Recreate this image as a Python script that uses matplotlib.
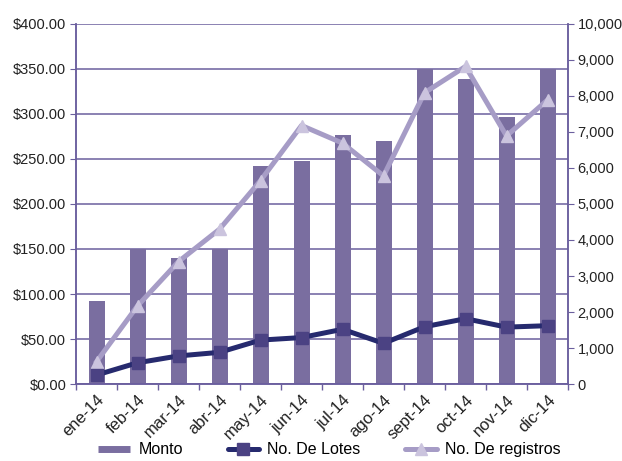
import matplotlib.pyplot as plt
from matplotlib.lines import Line2D
from matplotlib.ticker import FuncFormatter

plt.rcParams['font.family'] = ['Liberation Sans', 'DejaVu Sans']

meses = ['ene-14', 'feb-14', 'mar-14', 'abr-14', 'may-14', 'jun-14',
         'jul-14', 'ago-14', 'sept-14', 'oct-14', 'nov-14', 'dic-14']
monto = [92.5, 150, 140, 150.5, 242.5, 248, 277, 269.5, 350, 339, 297, 350]
lotes = [250, 590, 780, 880, 1220, 1290, 1520, 1130, 1590, 1815, 1580, 1620]
registros = [620, 2170, 3400, 4300, 5650, 7180, 6690, 5780, 8090, 8820, 6890, 7890]

bar_c = '#7a6ea0'
grid_c = '#6b5f9e'
lotes_c = '#262a6e'
lotes_m = '#4b4283'
reg_c = '#a69cc6'
reg_m = '#cbc4de'

fig = plt.figure(figsize=(6.22, 4.61), dpi=100)
ax = fig.add_axes([0.1222, 0.167, 0.7910, 0.781])
x = list(range(len(meses)))

ax.set_axisbelow(True)
ax.yaxis.grid(True, color=grid_c, linewidth=1.1)
ax.bar(x, monto, width=0.39, color=bar_c, zorder=2)
ax.set_ylim(0, 400)
ax.set_yticks(range(0, 401, 50))
ax.yaxis.set_major_formatter(FuncFormatter(lambda v, p: f'${v:,.2f}'))
ax.set_xlim(-0.5, len(meses) - 0.5)
ax.set_xticks([i - 0.5 for i in range(len(meses) + 1)])
ax.set_xticklabels([])
ax.set_xticks(x, minor=True)
ax.set_xticklabels(meses, minor=True, rotation=45, ha='right',
                   rotation_mode='anchor', fontsize=12, color='#222222')
ax.tick_params(axis='x', which='minor', length=0, pad=6)
ax.tick_params(axis='x', which='major', length=4, color=grid_c, width=1)
ax.tick_params(axis='y', length=4, color=grid_c, labelsize=10.5,
               labelcolor='#222222', pad=3)

# both counts share the right-hand axis
ax2 = ax.twinx()
ax2.plot(x, registros, color=reg_c, linewidth=3.6, marker='^',
         markersize=9, markerfacecolor=reg_m, markeredgecolor=reg_m, zorder=3)
ax2.plot(x, lotes, color=lotes_c, linewidth=3.6, marker='s',
         markersize=8.5, markerfacecolor=lotes_m, markeredgecolor=lotes_m, zorder=4)
ax2.set_ylim(0, 10000)
ax2.set_yticks(range(0, 10001, 1000))
ax2.yaxis.set_major_formatter(FuncFormatter(lambda v, p: f'{v:,.0f}'))
ax2.tick_params(axis='y', length=4, color=grid_c, labelsize=10.5,
                labelcolor='#222222', pad=3)

for a in (ax, ax2):
    a.spines['top'].set_visible(False)
    for s in ('left', 'right', 'bottom'):
        a.spines[s].set_color(grid_c)
        a.spines[s].set_linewidth(1.1)

handles = [
    Line2D([], [], color=bar_c, linewidth=5, solid_capstyle='butt'),
    Line2D([], [], color=lotes_c, linewidth=3.6, marker='s', markersize=8,
           markerfacecolor=lotes_m, markeredgecolor=lotes_m,
           solid_capstyle='round'),
    Line2D([], [], color=reg_c, linewidth=3.6, marker='^', markersize=8,
           markerfacecolor=reg_m, markeredgecolor=reg_m,
           solid_capstyle='round'),
]
fig.legend(handles, ['Monto', 'No. De Lotes', 'No. De registros'],
           loc='center', bbox_to_anchor=(0.53, 0.024), ncol=3, frameon=False,
           fontsize=11.5, handlelength=2.0, handletextpad=0.5, columnspacing=2.8,
           borderpad=0.1)

fig.savefig('out.png', dpi=100)
